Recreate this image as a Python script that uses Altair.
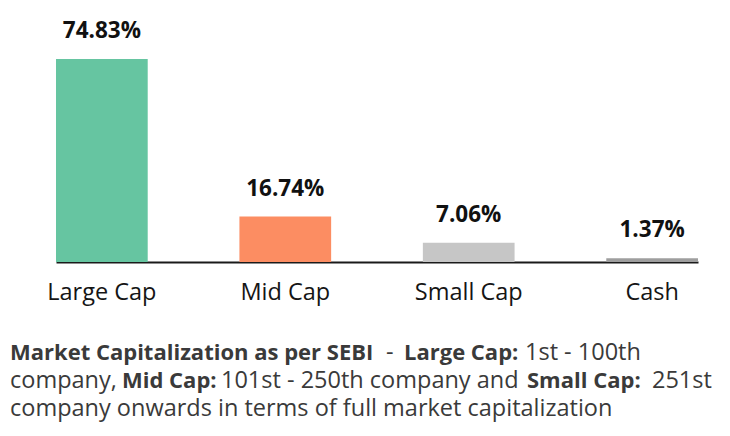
import altair as alt
import pandas as pd

categories = ["Large Cap", "Mid Cap", "Small Cap", "Cash"]
values = [74.83, 16.74, 7.06, 1.37]
colors = ["#66c5a1", "#fc8d62", "#c6c6c6", "#9e9e9e"]

note_segments = [
    "Market Capitalization as per SEBI", "-", "Large Cap:", "1st - 100th",
    "company,", "Mid Cap:", "101st - 250th company and", "Small Cap:", "251st",
    "company onwards in terms of full market capitalization",
]
note_bold = [True, False, True, False, False, True, False, True, False, False]
note_line = [0, 0, 0, 0, 1, 1, 1, 1, 1, 2]

# ---- layout (page pixels) ----
note_x = [10, 386, 404, 525, 10, 122, 221, 527, 652, 10]
line_base = [359.5, 387.5, 415.5]
PAD_L, PAD_T = 48, 37
W, H = 642, 217
FONT = "Open Sans"

df = pd.DataFrame({"category": categories, "value": values})
df["label"] = [f"{v:.2f}%" for v in values]

x = alt.X(
    "category:N", sort=categories,
    scale=alt.Scale(paddingInner=0.5, paddingOuter=0),
    axis=alt.Axis(title=None, labelAngle=0, ticks=False, tickSize=0, grid=False,
                  domainColor="#1a1a1a", domainWidth=2,
                  labelFont=FONT, labelFontSize=23.5, labelColor="#151515",
                  labelPadding=37, labelBaseline="alphabetic"),
)
y = alt.Y("value:Q", scale=alt.Scale(domain=[0, 80], nice=False, zero=True), axis=None)

bars = alt.Chart(df).mark_bar().encode(
    x=x, y=y,
    color=alt.Color("category:N", scale=alt.Scale(domain=categories, range=colors), legend=None),
)
labels = alt.Chart(df).mark_text(
    font=FONT, fontSize=22.5, fontWeight="bold", baseline="alphabetic", dy=-21, color="#111111"
).encode(x=x, y=y, text="label:N")

layers = [bars, labels]
for txt, b, ln, px in zip(note_segments, note_bold, note_line, note_x):
    layers.append(
        alt.Chart(pd.DataFrame({"t": [txt]})).mark_text(
            font=FONT, fontSize=22 if b else 23.5, fontWeight="bold" if b else "normal",
            align="left", baseline="alphabetic", color="#3a3a3a",
        ).encode(
            x=alt.value(px - 8 - PAD_L),
            y=alt.value(line_base[ln] - 8 - PAD_T),
            text="t:N",
        )
    )

chart = alt.layer(*layers).properties(
    width=W, height=H,
    autosize=alt.AutoSizeParams(type="none"),
    padding={"left": PAD_L, "top": PAD_T, "right": 730 - 16 - PAD_L - W, "bottom": 436 - 16 - PAD_T - H},
).configure_view(stroke=None)

chart.save("out.html", embed_options={"renderer": "svg", "actions": False})
